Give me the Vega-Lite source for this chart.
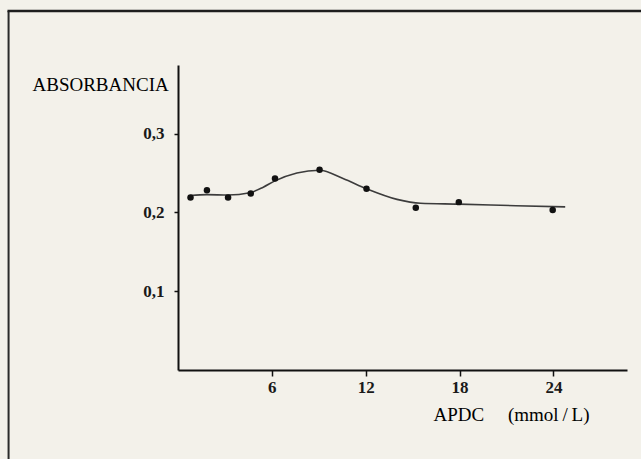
{
  "$schema": "https://vega.github.io/schema/vega-lite/v6.json",
  "width": 449,
  "height": 305,
  "autosize": {"type": "none"},
  "padding": {"left": 178, "top": 65, "right": 14, "bottom": 89},
  "background": "#f3f1ea",
  "config": {
    "view": {"stroke": null},
    "font": "Liberation Serif"
  },
  "datasets": {
    "points": [
      {"apdc": 0.8, "abs": 0.219},
      {"apdc": 1.85, "abs": 0.228},
      {"apdc": 3.2, "abs": 0.219},
      {"apdc": 4.65, "abs": 0.224},
      {"apdc": 6.2, "abs": 0.243},
      {"apdc": 9.05, "abs": 0.254},
      {"apdc": 12.05, "abs": 0.230},
      {"apdc": 15.2, "abs": 0.206},
      {"apdc": 17.95, "abs": 0.213},
      {"apdc": 23.95, "abs": 0.203}
    ],
    "curve": [
      {"apdc": 0.8, "abs": 0.2215},
      {"apdc": 1.85, "abs": 0.2225},
      {"apdc": 3.2, "abs": 0.222},
      {"apdc": 4.6, "abs": 0.225},
      {"apdc": 5.45, "abs": 0.232},
      {"apdc": 6.2, "abs": 0.240},
      {"apdc": 7.6, "abs": 0.250},
      {"apdc": 9.05, "abs": 0.2535},
      {"apdc": 10.55, "abs": 0.243},
      {"apdc": 12.05, "abs": 0.230},
      {"apdc": 14.0, "abs": 0.2165},
      {"apdc": 15.5, "abs": 0.2115},
      {"apdc": 17.95, "abs": 0.2105},
      {"apdc": 21.6, "abs": 0.2085},
      {"apdc": 24.75, "abs": 0.207}
    ]
  },
  "layer": [
    {
      "data": {"values": [{}]},
      "mark": {"type": "rule", "color": "#2a2a2a", "strokeWidth": 2},
      "encoding": {
        "x": {"datum": -10.83, "type": "quantitative"},
        "y": {"datum": 0.4555, "type": "quantitative"},
        "y2": {"datum": -0.13}
      }
    },
    {
      "data": {"values": [{}]},
      "mark": {"type": "rule", "color": "#1e1e1e", "strokeWidth": 2.5},
      "encoding": {
        "x": {"datum": -10.9, "type": "quantitative"},
        "x2": {"datum": 30.2},
        "y": {"datum": 0.4555, "type": "quantitative"}
      }
    },
    {
      "data": {"name": "curve"},
      "mark": {"type": "line", "interpolate": "monotone", "color": "#3c3c3c", "strokeWidth": 1.6},
      "encoding": {
        "x": {
          "field": "apdc",
          "type": "quantitative",
          "scale": {"domain": [0, 28.7], "nice": false, "zero": false},
          "axis": {
            "values": [6, 12, 18, 24],
            "grid": false,
            "domainColor": "#111",
            "domainWidth": 2,
            "tickColor": "#111",
            "tickWidth": 1.5,
            "tickSize": 6,
            "labelFont": "Liberation Serif",
            "labelFontSize": 17,
            "labelFontWeight": "bold",
            "labelColor": "#1a1a1a",
            "labelPadding": 3,
            "title": "APDC\u00a0\u00a0\u00a0\u00a0\u00a0(mmol\u2009/\u2009L)",
            "titleFont": "Liberation Serif",
            "titleFontSize": 19,
            "titleFontWeight": "normal",
            "titleColor": "#000",
            "titleAlign": "center",
            "titleAnchor": null,
            "titleBaseline": "alphabetic",
            "titleX": 333,
            "titleY": 50
          }
        },
        "y": {
          "field": "abs",
          "type": "quantitative",
          "scale": {"domain": [0, 0.387], "nice": false, "zero": false},
          "axis": {
            "values": [0.1, 0.2, 0.3],
            "format": ".1f",
            "labelExpr": "replace(datum.label, '.', ',')",
            "grid": false,
            "domainColor": "#111",
            "domainWidth": 2,
            "tickColor": "#111",
            "tickWidth": 1.5,
            "tickSize": 4,
            "labelFont": "Liberation Serif",
            "labelFontSize": 17,
            "labelFontWeight": "bold",
            "labelColor": "#1a1a1a",
            "labelPadding": 10,
            "title": "ABSORBANCIA",
            "titleFont": "Liberation Serif",
            "titleFontSize": 19,
            "titleFontWeight": "normal",
            "titleColor": "#000",
            "titleAngle": 0,
            "titleAlign": "left",
            "titleAnchor": null,
            "titleBaseline": "alphabetic",
            "titleX": -146,
            "titleY": 25
          }
        }
      }
    },
    {
      "data": {"name": "points"},
      "mark": {"type": "point", "filled": true, "shape": "circle", "size": 42, "color": "#111", "opacity": 1},
      "encoding": {
        "x": {"field": "apdc", "type": "quantitative"},
        "y": {"field": "abs", "type": "quantitative"}
      }
    }
  ]
}
